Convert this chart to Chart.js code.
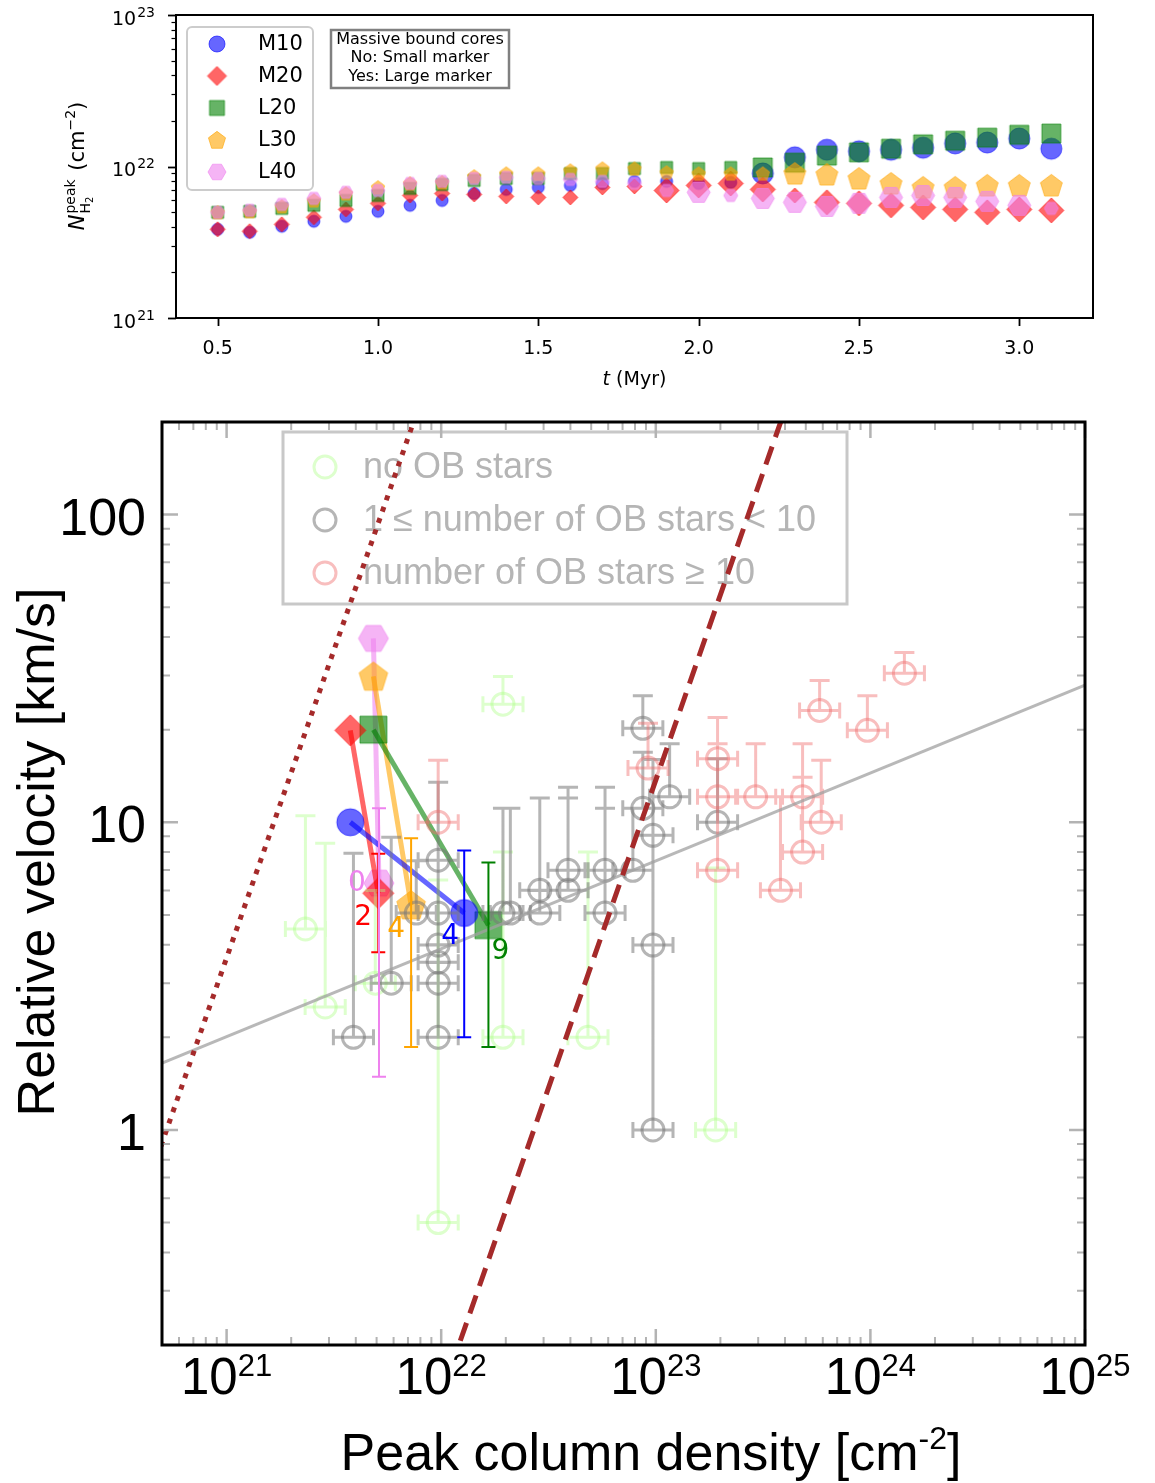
<!DOCTYPE html>
<html><head><meta charset="utf-8">
<script src="https://cdn.jsdelivr.net/npm/chart.js@4.4.1/dist/chart.umd.min.js"></script>
<style>
html,body{margin:0;padding:0;background:#fff;}
#wrap{position:relative;width:1155px;height:1483px;overflow:hidden;background:#fff;}
canvas{position:absolute;left:0;}
#c1{top:0;}
#c2{top:400px;}
</style></head><body>
<div id="wrap"><canvas id="c1" width="1155" height="400"></canvas><canvas id="c2" width="1155" height="1083"></canvas></div>
<script>
// ---------------- TOP CHART DATA ----------------
const times = [0.5,0.6,0.7,0.8,0.9,1.0,1.1,1.2,1.3,1.4,1.5,1.6,1.7,1.8,1.9,2.0,2.1,2.2,2.3,2.4,2.5,2.6,2.7,2.8,2.9,3.0,3.1];
const seriesNames = ['M10','M20','L20','L30','L40'];
const nM10 = [3.85e21,3.68e21,4.03e21,4.35e21,4.69e21,5.06e21,5.54e21,5.97e21,6.64e21,7.06e21,7.28e21,7.50e21,7.73e21,7.97e21,7.97e21,7.73e21,7.85e21,9.0e21,1.15e22,1.29e22,1.26e22,1.29e22,1.33e22,1.42e22,1.44e22,1.53e22,1.31e22];
const nM20 = [3.85e21,3.74e21,4.15e21,4.62e21,5.21e21,5.71e21,6.44e21,6.64e21,6.54e21,6.35e21,6.25e21,6.25e21,7.28e21,7.39e21,6.95e21,7.50e21,7.73e21,7.06e21,6.44e21,5.80e21,5.71e21,5.54e21,5.37e21,5.21e21,4.98e21,5.21e21,5.13e21];
const nL20 = [4.98e21,5.06e21,5.29e21,5.54e21,5.97e21,6.44e21,7.17e21,7.61e21,8.09e21,8.34e21,8.34e21,8.99e21,8.99e21,9.70e21,9.85e21,9.70e21,9.85e21,9.85e21,1.06e22,1.18e22,1.24e22,1.31e22,1.40e22,1.48e22,1.55e22,1.62e22,1.65e22];
const nL30 = [4.98e21,5.06e21,5.45e21,5.97e21,6.64e21,7.28e21,7.73e21,7.85e21,8.60e21,8.99e21,8.99e21,9.41e21,9.70e21,9.70e21,9.13e21,8.99e21,8.99e21,8.99e21,8.99e21,8.86e21,8.34e21,7.73e21,7.28e21,7.28e21,7.50e21,7.50e21,7.50e21];
const nL40 = [4.98e21,5.14e21,5.62e21,6.16e21,6.75e21,6.95e21,7.73e21,7.97e21,8.34e21,8.47e21,8.34e21,8.22e21,7.97e21,7.73e21,6.95e21,6.75e21,6.44e21,6.16e21,5.80e21,5.45e21,5.71e21,6.25e21,6.44e21,6.25e21,5.89e21,5.54e21,5.29e21];
// massive bound cores (1 = large marker)
const bigM10 = [0,0,0,0,0,0,0,0,0,0,0,0,0,0,0,0,0,1,1,1,1,1,1,1,1,1,1];
const bigM20 = [0,0,0,0,0,0,0,0,0,0,0,0,0,0,1,1,1,1,0,1,1,1,1,1,1,1,1];
const bigL20 = [0,0,0,0,0,0,0,0,0,0,0,0,0,0,0,0,0,1,1,1,1,1,1,1,1,1,1];
const bigL30 = [0,0,0,0,0,0,0,0,0,0,0,0,0,0,0,0,0,0,1,1,1,1,1,1,1,1,1];
const bigL40 = [0,0,0,0,0,0,0,0,0,0,0,0,0,0,0,1,0,1,1,1,1,1,1,1,1,1,0];
const topXTicks = [0.5,1.0,1.5,2.0,2.5,3.0];
const topXLabels = ['0.5','1.0','1.5','2.0','2.5','3.0'];
const topYExps = [21,22,23];

// ---------------- BOTTOM CHART DATA ----------------
// no OB stars
const gN    = [2.33e21,2.88e21,4.93e21,9.68e21,1.94e22,1.94e22,4.83e22,1.90e23];
const gV    = [4.5,2.51,3.0,0.50,24.2,2.0,2.0,1.0];
const gVmin = [4.5,2.51,3.0,0.50,24.2,2.0,2.0,1.0];
const gVmax = [10.5,8.55,6.0,6.49,29.8,8.0,8.0,7.1];
// 1 <= number of OB stars < 10
const kN    = [3.9e21,5.85e21,7.65e21,9.68e21,9.68e21,9.68e21,9.68e21,9.68e21,9.68e21,1.94e22,2.1e22,2.88e22,2.88e22,3.9e22,3.9e22,5.8e22,5.8e22,7.82e22,8.7e22,8.7e22,1.16e23,9.7e22,9.7e22,9.7e22,1.94e23];
const kV    = [2.0,3.0,5.07,2.0,3.0,3.51,3.99,5.07,7.53,5.07,5.07,5.07,6.01,6.01,6.98,6.98,5.07,6.98,11.1,20.2,12.1,9.07,3.99,1.0,10.0];
const kVmin = [2.0,3.0,5.07,2.0,3.0,3.51,3.99,5.07,7.53,5.07,5.07,5.07,6.01,6.01,6.98,6.98,5.07,6.98,11.1,20.2,12.1,9.07,3.99,1.0,10.0];
const kVmax = [7.93,8.94,7.5,3.0,3.5,4.0,5.07,7.53,13.5,11.1,11.1,6.0,12.0,12.0,13.0,13.0,11.1,11.1,16.9,25.8,18.0,16.0,9.07,3.99,16.1];
// number of OB stars >= 10
const pN    = [9.68e21,9.2e22,1.94e23,1.94e23,1.94e23,2.92e23,4.83e23,5.9e23,4.83e23,3.81e23,5.8e23,9.68e23,1.44e24];
const pV    = [10.0,15.0,16.1,12.1,6.98,12.1,12.1,10.0,8.0,6.01,23.1,19.9,30.5];
const pVmin = [10.0,15.0,16.1,12.1,6.98,12.1,12.1,10.0,8.0,6.01,23.1,19.9,30.5];
const pVmax = [15.9,21.0,21.9,18.0,12.1,18.0,18.0,15.9,14.0,12.1,28.9,25.8,35.6];
const xErrFactor = 1.24;
// simulation tracks (start -> end)
const trackNames = ['M10','M20','L20','L30','L40'];
const trackN0 = [3.77e21,3.77e21,4.83e21,4.83e21,4.83e21];
const trackV0 = [10.0,19.9,20.0,29.8,39.6];
const trackN1 = [1.28e22,5.09e21,1.66e22,7.24e21,5.13e21];
const trackV1 = [5.07,5.88,4.63,5.38,6.34];
const trackVmin = [2.0,3.78,1.86,1.86,1.49];
const trackVmax = [8.1,7.9,7.4,8.87,11.1];
const trackLabels = ['4','2','9','4','0'];
// reference lines
const fitN = [5e20,1e25];   const fitV = [1.65,27.9];
const dotN = [4e20,1e22];   const dotV = [0.58,362];
const dashN = [1e22,5e23];  const dashV = [0.137,343];
const botXExps = [21,22,23,24,25];
const botYTicks = [1,10,100];
const botYLabels = ['1','10','100'];
const legendTexts = ['no OB stars','1 \u2264 number of OB stars < 10','number of OB stars \u2265 10'];

// ---------------- STYLES ----------------
const fillCols = ['rgba(0,0,255,0.6)','rgba(255,0,0,0.6)','rgba(0,128,0,0.6)','rgba(255,165,0,0.6)','rgba(238,130,238,0.6)'];
const solidCols = ['#0000ff','#ff0000','#008000','#ffa500','#ee82ee'];
const shapes = ['circle','diamond','square','pentagon','hexagon'];
const smallSize = {circle:12,diamond:15,square:12,pentagon:14,hexagon:14};
const largeSize = {circle:21,diamond:25,square:19,pentagon:23,hexagon:23};
const legSize = {circle:16,diamond:19,square:15,pentagon:18,hexagon:18};
const botSize = {circle:27,diamond:31,square:27,pentagon:30,hexagon:30};
const labelOffsets = [[-14,24],[-15,24],[12,27],[-15,25],[-22,1]];
const bgCols = ['rgba(170,255,130,0.4)','rgba(120,120,120,0.55)','rgba(240,110,110,0.45)'];

function markerCanvas(shape, d, col) {
  const s = Math.ceil(d + 4);
  const c = document.createElement('canvas'); c.width = s; c.height = s;
  const g = c.getContext('2d'); const cx = s/2, cy = s/2, r = d/2;
  g.fillStyle = col; g.strokeStyle = col; g.lineWidth = 1;
  g.beginPath();
  if (shape === 'circle') g.arc(cx, cy, r, 0, Math.PI*2);
  else if (shape === 'square') g.rect(cx-r, cy-r, d, d);
  else if (shape === 'diamond') { g.moveTo(cx, cy-r); g.lineTo(cx+r, cy); g.lineTo(cx, cy+r); g.lineTo(cx-r, cy); g.closePath(); }
  else if (shape === 'pentagon') { for (let i=0;i<5;i++){ const a=(-90+72*i)*Math.PI/180; const px=cx+r*Math.cos(a), py=cy+r*1.04*Math.sin(a)+r*0.08; i?g.lineTo(px,py):g.moveTo(px,py);} g.closePath(); }
  else if (shape === 'hexagon') { for (let i=0;i<6;i++){ const a=(60*i)*Math.PI/180; const px=cx+r*Math.cos(a), py=cy+r*Math.sin(a); i?g.lineTo(px,py):g.moveTo(px,py);} g.closePath(); }
  g.fill(); g.stroke();
  return c;
}

function logTicks(min, max) {
  const out = [];
  for (let e = Math.floor(Math.log10(min)); e <= Math.ceil(Math.log10(max)); e++)
    for (let m = 1; m < 10; m++) { const v = m*Math.pow(10,e); if (v >= min*0.999 && v <= max*1.001) out.push({v, major: m===1}); }
  return out;
}
function powLabel(ctx, base, exp, cx, baseY, supY, fBase, fSup, align, gap) {
  ctx.font = fBase; const wb = ctx.measureText(base).width;
  ctx.font = fSup; const ws = ctx.measureText(exp).width;
  const x0 = align === 'right' ? cx - wb - ws - gap : cx - (wb + ws + gap)/2;
  ctx.textAlign = 'left'; ctx.textBaseline = 'alphabetic';
  ctx.font = fBase; ctx.fillText(base, x0, baseY);
  ctx.font = fSup; ctx.fillText(exp, x0 + wb + gap, supY);
}

// ---------------- TOP CHART ----------------
const topSeries = [nM10,nM20,nL20,nL30,nL40];
const topBig = [bigM10,bigM20,bigL20,bigL30,bigL40];
const topDatasets = topSeries.map((vals, i) => {
  const sImg = markerCanvas(shapes[i], smallSize[shapes[i]], fillCols[i]);
  const bImg = markerCanvas(shapes[i], largeSize[shapes[i]], fillCols[i]);
  return {
    label: seriesNames[i],
    data: times.map((t, j) => ({x: t, y: vals[j]})),
    showLine: false,
    pointStyle: ctx => (topBig[i][ctx.dataIndex] ? bImg : sImg),
    pointRadius: 5, pointHoverRadius: 5,
    order: 10 - i
  };
});
const legImgs = shapes.map((s, i) => markerCanvas(s, legSize[s], fillCols[i]));

const topDecor = {
  id: 'topDecor',
  afterDraw(chart) {
    const ctx = chart.ctx, a = chart.chartArea, xs = chart.scales.x, ys = chart.scales.y;
    ctx.save();
    ctx.strokeStyle = '#000';
    logTicks(1e21, 1e23).forEach(t => {
      const y = Math.round(ys.getPixelForValue(t.v)) + 0.5;
      ctx.lineWidth = t.major ? 1.8 : 1.2;
      ctx.beginPath(); ctx.moveTo(a.left - (t.major ? 8 : 4.5), y); ctx.lineTo(a.left, y); ctx.stroke();
    });
    topXTicks.forEach(v => {
      const x = Math.round(xs.getPixelForValue(v)) + 0.5;
      ctx.lineWidth = 1.8;
      ctx.beginPath(); ctx.moveTo(x, a.bottom); ctx.lineTo(x, a.bottom + 8); ctx.stroke();
    });
    ctx.lineWidth = 2;
    ctx.strokeRect(a.left, a.top, a.right - a.left, a.bottom - a.top);
    ctx.fillStyle = '#000';
    topYExps.forEach(e => {
      const y = ys.getPixelForValue(Math.pow(10, e));
      powLabel(ctx, '10', String(e), 155, y + 9.5, y + 1.5, '19px "DejaVu Sans"', '14px "DejaVu Sans"', 'right', 1);
    });
    ctx.font = '19px "DejaVu Sans"'; ctx.textAlign = 'center'; ctx.textBaseline = 'alphabetic';
    topXTicks.forEach((v, i) => ctx.fillText(topXLabels[i], xs.getPixelForValue(v), 354));
    ctx.font = 'italic 19px "DejaVu Sans"'; const wt = ctx.measureText('t').width;
    ctx.font = '19px "DejaVu Sans"'; const wr = ctx.measureText(' (Myr)').width;
    const x0 = (a.left + a.right)/2 - (wt + wr)/2;
    ctx.textAlign = 'left';
    ctx.font = 'italic 19px "DejaVu Sans"'; ctx.fillText('t', x0, 385);
    ctx.font = '19px "DejaVu Sans"'; ctx.fillText(' (Myr)', x0 + wt, 385);
    ctx.save();
    ctx.translate(84, 166); ctx.rotate(-Math.PI/2);
    const F = '21px "DejaVu Sans"', FI = 'italic 21px "DejaVu Sans"', FS = '14px "DejaVu Sans"', FSS = '10px "DejaVu Sans"';
    ctx.font = FI; const wN = ctx.measureText('N').width;
    ctx.font = FS; const wPeak = ctx.measureText('peak').width, wH = ctx.measureText('H').width;
    ctx.font = FSS; const w2 = ctx.measureText('2').width;
    ctx.font = F; const wcm = ctx.measureText(' (cm').width, wpar = ctx.measureText(')').width;
    ctx.font = FS; const wm2 = ctx.measureText('\u22122').width;
    const wStack = Math.max(wPeak, wH + w2) + 2;
    const total = wN + 1 + wStack + wcm + wm2 + wpar;
    let x = -total/2;
    ctx.textAlign = 'left';
    ctx.font = FI; ctx.fillText('N', x, 0); x += wN + 1;
    ctx.font = FS; ctx.fillText('peak', x, -9); ctx.fillText('H', x, 6);
    ctx.font = FSS; ctx.fillText('2', x + wH, 9);
    x += wStack;
    ctx.font = F; ctx.fillText(' (cm', x, 0); x += wcm;
    ctx.font = FS; ctx.fillText('\u22122', x, -9); x += wm2;
    ctx.font = F; ctx.fillText(')', x, 0);
    ctx.restore();
    ctx.fillStyle = '#fff'; ctx.strokeStyle = '#cccccc'; ctx.lineWidth = 2;
    ctx.beginPath(); ctx.roundRect(187, 27, 126, 163, 5); ctx.fill(); ctx.stroke();
    ctx.font = '21px "DejaVu Sans"'; ctx.textBaseline = 'middle'; ctx.textAlign = 'left'; ctx.fillStyle = '#000';
    seriesNames.forEach((n, i) => {
      const yy = 44 + 32*i, img = legImgs[i];
      ctx.drawImage(img, 217 - img.width/2, yy - img.height/2);
      ctx.fillText(n, 258, yy + 1);
    });
    ctx.fillStyle = '#fff'; ctx.strokeStyle = '#808080'; ctx.lineWidth = 2.5;
    ctx.fillRect(331, 30, 178, 58); ctx.strokeRect(331, 30, 178, 58);
    ctx.fillStyle = '#000'; ctx.font = '16px "DejaVu Sans"'; ctx.textAlign = 'center';
    ['Massive bound cores','No: Small marker','Yes: Large marker'].forEach((s, i) => ctx.fillText(s, 420, 40 + 18.3*i));
    ctx.restore();
  }
};

new Chart(document.getElementById('c1'), {
  type: 'scatter',
  data: {datasets: topDatasets},
  options: {
    responsive: false, devicePixelRatio: 1, animation: false, events: [],
    layout: {padding: {top: 15, right: 62, left: 0, bottom: 0}},
    plugins: {legend: {display: false}, tooltip: {enabled: false}},
    scales: {
      x: {type: 'linear', min: 0.37, max: 3.23, grid: {display: false}, border: {display: false}, ticks: {display: false}, afterFit: s => { s.height = 82; }},
      y: {type: 'logarithmic', min: 1e21, max: 1e23, grid: {display: false}, border: {display: false}, ticks: {display: false}, afterFit: s => { s.width = 176; }}
    }
  },
  plugins: [topDecor]
});

// ---------------- BOTTOM CHART ----------------
function bgData(N, V, Vmin, Vmax) { return N.map((n, i) => ({x: n, y: V[i], yMin: Vmin[i], yMax: Vmax[i]})); }
const botDatasets = [];
botDatasets.push({label: 'dashed', data: dashN.map((n, i) => ({x: n, y: dashV[i]})), showLine: true, borderColor: '#a52a2a', borderWidth: 5, borderDash: [19, 10], pointRadius: 0, order: 0});
botDatasets.push({label: 'dotted', data: dotN.map((n, i) => ({x: n, y: dotV[i]})), showLine: true, borderColor: '#a52a2a', borderWidth: 5, borderDash: [5, 7], pointRadius: 0, order: 1});
botDatasets.push({label: 'fit', data: fitN.map((n, i) => ({x: n, y: fitV[i]})), showLine: true, borderColor: 'rgba(160,160,160,0.75)', borderWidth: 3, pointRadius: 0, order: 2});
[[pN,pV,pVmin,pVmax],[kN,kV,kVmin,kVmax],[gN,gV,gVmin,gVmax]].forEach((arr, k) => {
  const col = bgCols[2 - k];
  botDatasets.push({label: legendTexts[2 - k], data: bgData(...arr), showLine: false, errBars: true,
    pointStyle: 'circle', pointRadius: 11, pointHoverRadius: 11, borderWidth: 3, borderColor: col, backgroundColor: 'rgba(0,0,0,0)', order: 3 + k});
});
trackNames.forEach((n, i) => {
  const img = markerCanvas(shapes[i], botSize[shapes[i]], fillCols[i]);
  botDatasets.push({label: n, data: [{x: trackN0[i], y: trackV0[i]}, {x: trackN1[i], y: trackV1[i]}], showLine: true,
    borderColor: fillCols[i], borderWidth: 5, pointStyle: img, pointRadius: 5, pointHoverRadius: 5, order: 10 + i});
});

const botDecor = {
  id: 'botDecor',
  beforeDatasetsDraw(chart) {
    const ctx = chart.ctx;
    ctx.save();
    ctx.fillStyle = '#fff'; ctx.strokeStyle = '#c8c8c8'; ctx.lineWidth = 3;
    ctx.fillRect(283, 32, 564, 172); ctx.strokeRect(283, 32, 564, 172);
    ctx.font = '36px "Liberation Sans"'; ctx.textBaseline = 'middle'; ctx.textAlign = 'left';
    legendTexts.forEach((t, i) => {
      const yy = 67 + 53*i;
      ctx.strokeStyle = bgCols[i]; ctx.lineWidth = 3;
      ctx.beginPath(); ctx.arc(325, yy, 11, 0, Math.PI*2); ctx.stroke();
      ctx.fillStyle = '#b5b5b5'; ctx.fillText(t, 363, yy + 1);
    });
    ctx.restore();
  },
  beforeDatasetDraw(chart, args) {
    const ds = chart.data.datasets[args.index];
    if (!ds.errBars) return;
    const ctx = chart.ctx, xs = chart.scales.x, ys = chart.scales.y;
    ctx.save();
    ctx.strokeStyle = ds.borderColor; ctx.lineWidth = 3;
    ctx.beginPath();
    ds.data.forEach(p => {
      const px = xs.getPixelForValue(p.x), py = ys.getPixelForValue(p.y);
      const x0 = xs.getPixelForValue(p.x / xErrFactor), x1 = xs.getPixelForValue(p.x * xErrFactor);
      ctx.moveTo(x0, py); ctx.lineTo(x1, py);
      ctx.moveTo(x0, py - 8); ctx.lineTo(x0, py + 8);
      ctx.moveTo(x1, py - 8); ctx.lineTo(x1, py + 8);
      if (p.yMax > p.y) { const t = ys.getPixelForValue(p.yMax); ctx.moveTo(px, py); ctx.lineTo(px, t); ctx.moveTo(px - 10, t); ctx.lineTo(px + 10, t); }
      if (p.yMin < p.y) { const b = ys.getPixelForValue(p.yMin); ctx.moveTo(px, py); ctx.lineTo(px, b); ctx.moveTo(px - 10, b); ctx.lineTo(px + 10, b); }
    });
    ctx.stroke();
    ctx.restore();
  },
  afterDatasetsDraw(chart) {
    const ctx = chart.ctx, xs = chart.scales.x, ys = chart.scales.y;
    ctx.save();
    trackNames.forEach((n, i) => {
      const px = xs.getPixelForValue(trackN1[i]);
      const t = ys.getPixelForValue(trackVmax[i]), b = ys.getPixelForValue(trackVmin[i]);
      ctx.strokeStyle = solidCols[i]; ctx.lineWidth = 2;
      ctx.beginPath(); ctx.moveTo(px, t); ctx.lineTo(px, b);
      ctx.moveTo(px - 7, t); ctx.lineTo(px + 7, t); ctx.moveTo(px - 7, b); ctx.lineTo(px + 7, b); ctx.stroke();
      const py = ys.getPixelForValue(trackV1[i]);
      ctx.fillStyle = solidCols[i]; ctx.font = '28px "DejaVu Sans"'; ctx.textAlign = 'center'; ctx.textBaseline = 'middle';
      ctx.fillText(trackLabels[i], px + labelOffsets[i][0], py + labelOffsets[i][1]);
    });
    ctx.restore();
  },
  afterDraw(chart) {
    const ctx = chart.ctx, a = chart.chartArea, xs = chart.scales.x, ys = chart.scales.y;
    ctx.save();
    ctx.strokeStyle = '#b3b3b3';
    logTicks(5e20, 1e25).forEach(t => {
      const x = xs.getPixelForValue(t.v); const L = t.major ? 16 : 8;
      ctx.lineWidth = t.major ? 2.5 : 2;
      ctx.beginPath(); ctx.moveTo(x, a.bottom); ctx.lineTo(x, a.bottom - L); ctx.moveTo(x, a.top); ctx.lineTo(x, a.top + L); ctx.stroke();
    });
    logTicks(0.2, 200).forEach(t => {
      const y = ys.getPixelForValue(t.v); const L = t.major ? 16 : 8;
      ctx.lineWidth = t.major ? 2.5 : 2;
      ctx.beginPath(); ctx.moveTo(a.left, y); ctx.lineTo(a.left + L, y); ctx.moveTo(a.right, y); ctx.lineTo(a.right - L, y); ctx.stroke();
    });
    ctx.strokeStyle = '#000'; ctx.lineWidth = 3;
    ctx.strokeRect(a.left, a.top, a.right - a.left, a.bottom - a.top);
    ctx.fillStyle = '#000';
    botXExps.forEach(e => {
      const x = xs.getPixelForValue(Math.pow(10, e));
      powLabel(ctx, '10', String(e), x, 994, 976, '51px "Liberation Sans"', '31px "Liberation Sans"', 'center', 0);
    });
    ctx.font = '52px "Liberation Sans"'; ctx.textAlign = 'right'; ctx.textBaseline = 'alphabetic';
    botYTicks.forEach((v, i) => ctx.fillText(botYLabels[i], 146, ys.getPixelForValue(v) + 20));
    const F = '52px "Liberation Sans"', FS = '32px "Liberation Sans"';
    ctx.font = F; const w1 = ctx.measureText('Peak column density [cm').width, w3 = ctx.measureText(']').width;
    ctx.font = FS; const w2 = ctx.measureText('-2').width;
    let x = 651 - (w1 + w2 + w3)/2;
    ctx.textAlign = 'left';
    ctx.font = F; ctx.fillText('Peak column density [cm', x, 1070); x += w1;
    ctx.font = FS; ctx.fillText('-2', x, 1049); x += w2;
    ctx.font = F; ctx.fillText(']', x, 1070);
    ctx.save(); ctx.translate(54, 452); ctx.rotate(-Math.PI/2);
    ctx.font = F; ctx.textAlign = 'center'; ctx.fillText('Relative velocity [km/s]', 0, 0);
    ctx.restore();
    ctx.restore();
  }
};

new Chart(document.getElementById('c2'), {
  type: 'scatter',
  data: {datasets: botDatasets},
  options: {
    responsive: false, devicePixelRatio: 1, animation: false, events: [],
    layout: {padding: {top: 22, right: 70, left: 0, bottom: 0}},
    plugins: {legend: {display: false}, tooltip: {enabled: false}},
    scales: {
      x: {type: 'logarithmic', min: 5e20, max: 1e25, grid: {display: false}, border: {display: false}, ticks: {display: false}, afterFit: s => { s.height = 138; }},
      y: {type: 'logarithmic', min: 0.2, max: 200, grid: {display: false}, border: {display: false}, ticks: {display: false}, afterFit: s => { s.width = 162; }}
    }
  },
  plugins: [botDecor]
});
</script>
</body></html>
